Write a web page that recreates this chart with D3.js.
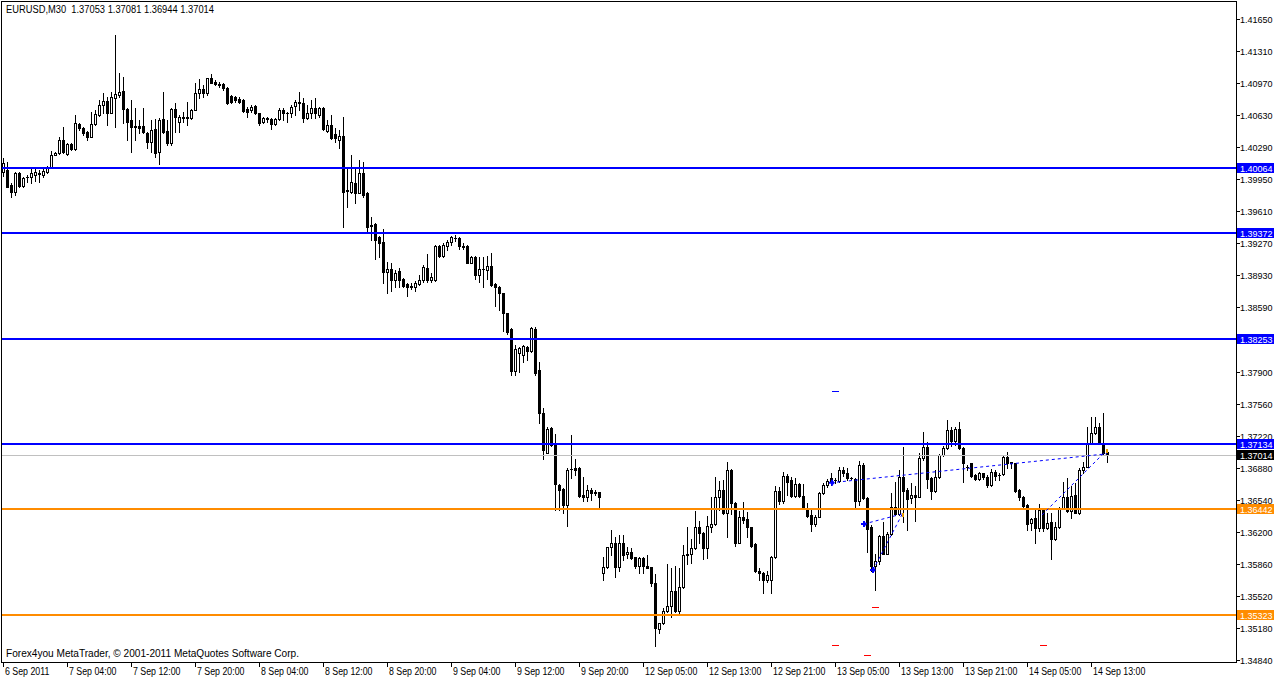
<!DOCTYPE html>
<html>
<head>
<meta charset="utf-8">
<script src="https://cdn.jsdelivr.net/npm/d3@7"></script>
<style>
  body { margin: 0; background: #ffffff; }
  svg text { font-family: "Liberation Sans", Arial, sans-serif; font-size: 10px; fill: #000; }
  svg text.price { font-size: 9px; }
</style>
</head>
<body>
<div id="vis"></div>
<script>
var w = 1274;
var h = 679;

// EURUSD M30 bars (oldest first)
var opens = [
  1.40028,1.40046,1.39887,1.39816,1.40011,1.39880,1.39975,1.39968,1.39993,1.40018,
  1.39993,1.40028,1.40075,1.40209,1.40223,1.40365,1.40216,1.40322,1.40266,1.40535,
  1.40496,1.40453,1.40400,1.40531,1.40630,1.40733,1.40779,1.40655,1.40807,1.40843,
  1.40885,1.40694,1.40577,1.40510,1.40514,1.40514,1.40443,1.40347,1.40482,1.40241,
  1.40584,1.40464,1.40336,1.40694,1.40552,1.40595,1.40595,1.40595,1.40683,1.40861,
  1.40910,1.40861,1.41020,1.40984,1.40963,1.40956,1.40914,1.40832,1.40825,1.40800,
  1.40790,1.40694,1.40683,1.40726,1.40648,1.40552,1.40595,1.40584,1.40531,1.40584,
  1.40683,1.40655,1.40648,1.40726,1.40765,1.40761,1.40595,1.40648,1.40708,1.40630,
  1.40708,1.40464,1.40524,1.40425,1.40365,1.40407,1.39830,1.39816,1.39905,1.39805,
  1.40011,1.39805,1.39459,1.39473,1.39338,1.39278,1.38967,1.38991,1.38878,1.38974,
  1.38885,1.38832,1.38814,1.38800,1.38836,1.38878,1.39009,1.38878,1.38878,1.39239,
  1.39133,1.39239,1.39285,1.39320,1.39320,1.39235,1.39239,1.39062,1.39126,1.38931,
  1.38995,1.38984,1.39027,1.38836,1.38807,1.38736,1.38524,1.38354,1.37915,1.38103,
  1.38082,1.38170,1.38128,1.38358,1.37922,1.37462,1.37044,1.37303,1.37143,1.36701,
  1.36658,1.36488,1.36867,1.36878,1.36878,1.36595,1.36577,1.36648,1.36620,1.36623,
  1.35768,1.35825,1.36044,1.36080,1.35825,1.36080,1.35966,1.35984,1.35931,1.35839,
  1.35927,1.35839,1.35825,1.35662,1.35166,1.35230,1.35365,1.35414,1.35573,1.35365,
  1.35612,1.35966,1.35966,1.36027,1.36250,1.36186,1.36027,1.36257,1.36285,1.36575,
  1.36646,1.36405,1.36858,1.36504,1.36087,1.36356,1.36335,1.36250,1.36070,1.35789,
  1.35768,1.35690,1.35690,1.35931,1.36639,1.36533,1.36795,1.36752,1.36586,1.36710,
  1.36583,1.36452,1.36381,1.36282,1.36364,1.36611,1.36696,1.36771,1.36750,1.36742,
  1.36859,1.36831,1.36775,1.36764,1.36534,1.36912,1.36565,1.36257,1.35843,1.35890,
  1.36162,1.35971,1.36180,1.36463,1.36392,1.36789,1.36647,1.36558,1.36594,1.36576,
  1.36983,1.37100,1.36778,1.36640,1.36781,1.37018,1.37089,1.37284,1.37171,1.37291,
  1.37089,1.36890,1.36930,1.36806,1.36767,1.36824,1.36781,1.36700,1.36842,1.36810,
  1.36817,1.36994,1.36941,1.36930,1.36647,1.36576,1.36488,1.36293,1.36346,1.36240,
  1.36435,1.36240,1.36310,1.36127,1.36250,1.36452,1.36569,1.36428,1.36594,1.36399,
  1.36859,1.36895,1.37142,1.37249,1.37312,1.37149,1.37053
];
var highs = [
  1.40177,1.40135,1.39905,1.40028,1.40028,1.39975,1.39993,1.40053,1.40064,1.40046,
  1.40075,1.40089,1.40248,1.40241,1.40400,1.40499,1.40329,1.40336,1.40630,1.40549,
  1.40507,1.40464,1.40666,1.40683,1.40790,1.40861,1.40825,1.40878,1.41480,1.41073,
  1.41037,1.40701,1.40790,1.40701,1.40577,1.40701,1.40453,1.40577,1.40584,1.40595,
  1.40878,1.40577,1.40701,1.40754,1.40630,1.40666,1.40772,1.40690,1.40967,1.41009,
  1.40949,1.41020,1.41066,1.41002,1.40984,1.40967,1.40924,1.40843,1.40832,1.40825,
  1.40797,1.40719,1.40736,1.40736,1.40655,1.40613,1.40613,1.40595,1.40595,1.40701,
  1.40701,1.40666,1.40736,1.40790,1.40878,1.40807,1.40736,1.40790,1.40807,1.40712,
  1.40719,1.40577,1.40630,1.40489,1.40471,1.40606,1.40064,1.40206,1.40064,1.40152,
  1.40135,1.39816,1.39544,1.39480,1.39345,1.39416,1.39073,1.39062,1.38984,1.39009,
  1.38896,1.38843,1.38850,1.38871,1.38931,1.39037,1.39154,1.38949,1.39250,1.39250,
  1.39267,1.39303,1.39345,1.39356,1.39338,1.39274,1.39250,1.39133,1.39133,1.39126,
  1.39126,1.39133,1.39161,1.38843,1.38814,1.38743,1.38531,1.38365,1.38188,1.38170,
  1.38188,1.38177,1.38382,1.38375,1.38011,1.37515,1.37320,1.37320,1.37243,1.36711,
  1.36665,1.36878,1.37232,1.36974,1.36888,1.36789,1.36701,1.36665,1.36648,1.36630,
  1.35931,1.36044,1.36221,1.36150,1.36168,1.36168,1.36037,1.36027,1.35938,1.35931,
  1.35931,1.35956,1.35832,1.35751,1.35237,1.35389,1.35860,1.35814,1.35839,1.35814,
  1.36062,1.36250,1.36122,1.36423,1.36320,1.36204,1.36370,1.36575,1.36781,1.36745,
  1.36752,1.36940,1.36866,1.36522,1.36423,1.36522,1.36416,1.36257,1.36080,1.35821,
  1.35779,1.35786,1.35945,1.36689,1.36681,1.36834,1.36816,1.36788,1.36770,1.36724,
  1.36711,1.36505,1.36435,1.36381,1.36622,1.36725,1.36767,1.36824,1.36771,1.36888,
  1.36888,1.36877,1.36789,1.36778,1.36955,1.36930,1.36576,1.36275,1.35971,1.36173,
  1.36310,1.36197,1.36611,1.36735,1.36859,1.37100,1.36665,1.36718,1.36689,1.37036,
  1.37266,1.37160,1.36789,1.36859,1.37029,1.37114,1.37390,1.37319,1.37319,1.37373,
  1.37100,1.36912,1.36937,1.36817,1.36842,1.36831,1.36806,1.36866,1.36859,1.36824,
  1.37018,1.37054,1.36948,1.36937,1.36654,1.36583,1.36498,1.36346,1.36452,1.36498,
  1.36452,1.36406,1.36406,1.36310,1.36470,1.36735,1.36771,1.36689,1.36718,1.36877,
  1.36948,1.37319,1.37419,1.37419,1.37362,1.37468,1.37081
];
var lows = [
  1.39986,1.39869,1.39756,1.39781,1.39869,1.39869,1.39922,1.39912,1.39933,1.39922,
  1.39975,1.40011,1.40064,1.40202,1.40216,1.40230,1.40206,1.40259,1.40259,1.40471,
  1.40418,1.40365,1.40393,1.40524,1.40620,1.40648,1.40524,1.40648,1.40507,1.40825,
  1.40542,1.40365,1.40241,1.40365,1.40436,1.40436,1.40276,1.40241,1.40188,1.40107,
  1.40436,1.40312,1.40312,1.40453,1.40453,1.40560,1.40524,1.40584,1.40683,1.40807,
  1.40825,1.40843,1.40967,1.40945,1.40931,1.40896,1.40747,1.40761,1.40772,1.40754,
  1.40666,1.40613,1.40666,1.40641,1.40524,1.40542,1.40560,1.40482,1.40524,1.40577,
  1.40577,1.40560,1.40606,1.40630,1.40683,1.40560,1.40588,1.40595,1.40595,1.40606,
  1.40471,1.40453,1.40372,1.40347,1.40276,1.39437,1.39657,1.39805,1.39699,1.39798,
  1.39763,1.39391,1.39303,1.39098,1.39126,1.38850,1.38743,1.38765,1.38807,1.38807,
  1.38800,1.38712,1.38779,1.38765,1.38825,1.38860,1.38860,1.38860,1.38871,1.39126,
  1.39126,1.39197,1.39250,1.39296,1.39204,1.39204,1.39055,1.39055,1.38885,1.38860,
  1.38807,1.38885,1.38814,1.38602,1.38560,1.38340,1.38305,1.37869,1.37869,1.37905,
  1.38011,1.38022,1.38117,1.37869,1.37363,1.36974,1.37037,1.37115,1.36435,1.36435,
  1.36400,1.36265,1.36772,1.36807,1.36577,1.36524,1.36534,1.36541,1.36595,1.36453,
  1.35690,1.35814,1.35956,1.35726,1.35789,1.35903,1.35920,1.35910,1.35814,1.35761,
  1.35768,1.35814,1.35627,1.34993,1.35124,1.35223,1.35354,1.35301,1.35354,1.35343,
  1.35602,1.35860,1.35867,1.36016,1.36080,1.35910,1.35920,1.36204,1.36274,1.36434,
  1.36391,1.36150,1.36391,1.36051,1.36080,1.36292,1.36150,1.36044,1.35779,1.35690,
  1.35556,1.35673,1.35556,1.35920,1.36497,1.36512,1.36593,1.36575,1.36575,1.36568,
  1.36442,1.36364,1.36208,1.36264,1.36357,1.36604,1.36675,1.36700,1.36718,1.36735,
  1.36796,1.36753,1.36760,1.36452,1.36488,1.36548,1.35985,1.35783,1.35580,1.35864,
  1.35961,1.35961,1.36173,1.36381,1.36381,1.36310,1.36222,1.36505,1.36321,1.36569,
  1.36965,1.36665,1.36551,1.36629,1.36771,1.37008,1.37079,1.37114,1.37125,1.37079,
  1.36735,1.36859,1.36781,1.36753,1.36753,1.36760,1.36682,1.36689,1.36753,1.36753,
  1.36806,1.36877,1.36877,1.36629,1.36541,1.36452,1.36222,1.36222,1.36085,1.36215,
  1.36208,1.36229,1.35915,1.36120,1.36240,1.36442,1.36417,1.36346,1.36399,1.36392,
  1.36831,1.36888,1.37135,1.37242,1.37142,1.37029,1.36944
];
var closes = [
  1.40117,1.39869,1.39816,1.40011,1.39876,1.39965,1.39968,1.40018,1.40021,1.40000,
  1.40036,1.40075,1.40202,1.40227,1.40365,1.40241,1.40319,1.40266,1.40542,1.40489,
  1.40436,1.40400,1.40535,1.40641,1.40736,1.40779,1.40655,1.40818,1.40853,1.40878,
  1.40694,1.40560,1.40499,1.40507,1.40496,1.40446,1.40347,1.40471,1.40230,1.40577,
  1.40453,1.40329,1.40690,1.40613,1.40606,1.40606,1.40606,1.40683,1.40868,1.40903,
  1.40861,1.41020,1.40967,1.40956,1.40945,1.40914,1.40761,1.40772,1.40790,1.40772,
  1.40673,1.40666,1.40719,1.40648,1.40549,1.40595,1.40584,1.40531,1.40588,1.40683,
  1.40648,1.40652,1.40719,1.40772,1.40754,1.40595,1.40655,1.40701,1.40648,1.40701,
  1.40478,1.40524,1.40383,1.40383,1.40407,1.39816,1.39827,1.39915,1.39805,1.40011,
  1.39781,1.39444,1.39455,1.39303,1.39274,1.38967,1.38991,1.38878,1.38956,1.38878,
  1.38814,1.38800,1.38800,1.38850,1.38878,1.39020,1.38878,1.38913,1.39239,1.39133,
  1.39250,1.39285,1.39331,1.39324,1.39239,1.39232,1.39062,1.39126,1.38931,1.38991,
  1.38991,1.39027,1.38825,1.38807,1.38736,1.38524,1.38329,1.37915,1.38142,1.38152,
  1.38177,1.38128,1.38372,1.37887,1.37462,1.37073,1.37296,1.37126,1.36711,1.36648,
  1.36488,1.36860,1.36871,1.36860,1.36584,1.36577,1.36648,1.36612,1.36619,1.36570,
  1.35825,1.36037,1.36080,1.35825,1.36080,1.35956,1.35984,1.35920,1.35839,1.35927,
  1.35839,1.35821,1.35662,1.35177,1.35230,1.35365,1.35414,1.35573,1.35365,1.35612,
  1.35956,1.35956,1.36027,1.36250,1.36186,1.36027,1.36264,1.36285,1.36575,1.36646,
  1.36405,1.36858,1.36504,1.36087,1.36356,1.36327,1.36250,1.36051,1.35789,1.35768,
  1.35690,1.35743,1.35931,1.36639,1.36533,1.36795,1.36735,1.36586,1.36710,1.36582,
  1.36452,1.36371,1.36282,1.36364,1.36611,1.36696,1.36746,1.36735,1.36753,1.36859,
  1.36831,1.36771,1.36771,1.36534,1.36912,1.36565,1.36229,1.35843,1.35890,1.36162,
  1.35971,1.36180,1.36463,1.36392,1.36789,1.36640,1.36548,1.36594,1.36576,1.36983,
  1.37100,1.36764,1.36640,1.36781,1.37018,1.37089,1.37284,1.37171,1.37291,1.37089,
  1.36930,1.36888,1.36796,1.36760,1.36824,1.36781,1.36700,1.36842,1.36796,1.36806,
  1.36994,1.36937,1.36937,1.36640,1.36569,1.36477,1.36286,1.36335,1.36240,1.36435,
  1.36240,1.36300,1.36127,1.36250,1.36452,1.36569,1.36428,1.36583,1.36406,1.36859,
  1.36895,1.37142,1.37249,1.37312,1.37149,1.37036,1.37014
];

// horizontal levels drawn on the chart
var levelPrices = [1.40064, 1.39372, 1.38253, 1.37134, 1.36442, 1.35323];
var levelColors = ['#0000ff', '#0000ff', '#0000ff', '#0000ff', '#ff8c00', '#ff8c00'];
var bidPrice = 1.37014;

// price scale labels
var priceTicks = [1.41650, 1.41310, 1.40970, 1.40630, 1.40290, 1.39950, 1.39610, 1.39270,
  1.38930, 1.38590, 1.38250, 1.37900, 1.37560, 1.37220, 1.36880, 1.36540, 1.36200,
  1.35860, 1.35520, 1.35180, 1.34840];

// time labels, one every 16 bars
var timeLabels = ['6 Sep 2011', '7 Sep 04:00', '7 Sep 12:00', '7 Sep 20:00', '8 Sep 04:00',
  '8 Sep 12:00', '8 Sep 20:00', '9 Sep 04:00', '9 Sep 12:00', '9 Sep 20:00', '12 Sep 05:00',
  '12 Sep 13:00', '12 Sep 21:00', '13 Sep 05:00', '13 Sep 13:00', '13 Sep 21:00',
  '14 Sep 05:00', '14 Sep 13:00'];

// indicator objects: dashed trend lines [bar, price]
var trendFrom = [[207, 1.36723], [215.25, 1.36285], [217.5, 1.35796], [259.75, 1.36381]];
var trendTo = [[276, 1.37031], [224.7, 1.36391], [224.7, 1.36381], [275.5, 1.37050]];
var arrowPoints = [[207.25, 1.36723], [215.25, 1.36285], [217.5, 1.35796]];
var orangeMarks = [[224.7, 1.36381], [275.7, 1.37060]];
var blueDashes = [[208, 1.37698]];
var redDashes = [[208, 1.34999], [216, 1.34893], [218, 1.35403], [260, 1.34999]];

var bars = opens.map(function(o, i) {
  return { i: i, o: o, h: highs[i], l: lows[i], c: closes[i] };
});

var svg = d3.select('#vis')
  .append('svg')
    .attr('width', w)
    .attr('height', h)
    .style('display', 'block')
    .style('background', '#ffffff');

var x = d3.scaleLinear()
  .domain([0, 276])
  .range([3, 1107]);

var y = d3.scaleLinear()
  .domain([1.34840, 1.41650])
  .range([660, 19]);

var right = 1236;
var bottom = 662;

svg.append('clipPath')
    .attr('id', 'plot')
  .append('rect')
    .attr('x', 2)
    .attr('y', 2)
    .attr('width', right - 2)
    .attr('height', bottom - 2);

var plot = svg.append('g')
  .attr('clip-path', 'url(#plot)')
  .attr('shape-rendering', 'crispEdges');

// candles
var candle = plot.selectAll('g.candle')
  .data(bars)
  .enter()
  .append('g')
    .attr('class', 'candle');

candle.append('rect')
  .attr('x', function(d) { return Math.round(x(d.i)); })
  .attr('y', function(d) { return Math.round(y(d.h)); })
  .attr('width', 1)
  .attr('height', function(d) { return Math.round(y(d.l)) - Math.round(y(d.h)) + 1; })
  .style('fill', '#000');

candle.append('rect')
  .attr('x', function(d) { return Math.round(x(d.i)) - 1; })
  .attr('y', function(d) { return Math.round(y(Math.max(d.o, d.c))); })
  .attr('width', 3)
  .attr('height', function(d) {
    return Math.max(1, Math.round(y(Math.min(d.o, d.c))) - Math.round(y(Math.max(d.o, d.c))) + 1);
  })
  .style('fill', '#000');

candle.filter(function(d) {
    return d.c > d.o && Math.round(y(d.o)) - Math.round(y(d.c)) >= 2;
  })
  .append('rect')
    .attr('x', function(d) { return Math.round(x(d.i)); })
    .attr('y', function(d) { return Math.round(y(d.c)) + 1; })
    .attr('width', 1)
    .attr('height', function(d) { return Math.round(y(d.o)) - Math.round(y(d.c)) - 1; })
    .style('fill', '#fff');

// bid line
plot.append('rect')
  .attr('x', 2)
  .attr('y', Math.round(y(bidPrice)))
  .attr('width', right - 2)
  .attr('height', 1)
  .style('fill', '#c0c0c0');

// support / resistance levels
plot.selectAll('rect.level')
  .data(levelPrices)
  .enter()
  .append('rect')
    .attr('class', 'level')
    .attr('x', 2)
    .attr('y', function(d) { return Math.round(y(d)) - 1; })
    .attr('width', right - 2)
    .attr('height', 2)
    .style('fill', function(d, i) { return levelColors[i]; });

// dashed trend lines
var lines = plot.append('g').attr('shape-rendering', 'auto');
lines.selectAll('line')
  .data(trendFrom)
  .enter()
  .append('line')
    .attr('x1', function(d) { return x(d[0]); })
    .attr('y1', function(d) { return y(d[1]); })
    .attr('x2', function(d, i) { return x(trendTo[i][0]); })
    .attr('y2', function(d, i) { return y(trendTo[i][1]); })
    .style('stroke', '#0000ff')
    .style('stroke-width', 1)
    .style('stroke-dasharray', '3,3');

lines.selectAll('path.arrow')
  .data(arrowPoints)
  .enter()
  .append('path')
    .attr('class', 'arrow')
    .attr('transform', function(d) { return 'translate(' + x(d[0]) + ',' + y(d[1]) + ')'; })
    .attr('d', 'M-3,-1L0,-1L0,-3L3,0L0,3L0,1L-3,1Z M-1,-3L1,-3L1,3L-1,3Z')
    .style('fill', '#0000ff');

plot.selectAll('rect.omark')
  .data(orangeMarks)
  .enter()
  .append('rect')
    .attr('class', 'omark')
    .attr('x', function(d) { return Math.round(x(d[0])); })
    .attr('y', function(d) { return Math.round(y(d[1])) - 2; })
    .attr('width', 2)
    .attr('height', 4)
    .style('fill', '#e8a000');

plot.selectAll('rect.bdash')
  .data(blueDashes)
  .enter()
  .append('rect')
    .attr('class', 'bdash')
    .attr('x', function(d) { return Math.round(x(d[0])) - 3; })
    .attr('y', function(d) { return Math.round(y(d[1])); })
    .attr('width', 7)
    .attr('height', 1)
    .style('fill', '#0000ff');

plot.selectAll('rect.rdash')
  .data(redDashes)
  .enter()
  .append('rect')
    .attr('class', 'rdash')
    .attr('x', function(d) { return Math.round(x(d[0])) - 3; })
    .attr('y', function(d) { return Math.round(y(d[1])); })
    .attr('width', 7)
    .attr('height', 1)
    .style('fill', '#ff0000');

// frame
svg.append('rect')
  .attr('x', 1.5)
  .attr('y', 1.5)
  .attr('width', right - 1)
  .attr('height', bottom - 1)
  .style('fill', 'none')
  .style('stroke', '#000')
  .style('stroke-width', 1)
  .attr('shape-rendering', 'crispEdges');

function squeeze(sel, k) {
  sel.each(function() {
    var len = this.getComputedTextLength();
    d3.select(this)
      .attr('textLength', len * k)
      .attr('lengthAdjust', 'spacingAndGlyphs');
  });
}

function fitTo(sel, len) {
  sel.attr('textLength', len).attr('lengthAdjust', 'spacingAndGlyphs');
}

// price axis
var pAxis = svg.append('g');
pAxis.selectAll('rect')
  .data(priceTicks)
  .enter()
  .append('rect')
    .attr('x', right + 1)
    .attr('y', function(d) { return Math.round(y(d)); })
    .attr('width', 3)
    .attr('height', 1)
    .style('fill', '#000');

pAxis.selectAll('text')
  .data(priceTicks)
  .enter()
  .append('text')
    .attr('class', 'price')
    .attr('x', 1240)
    .attr('y', function(d) { return Math.round(y(d)) + 4; })
    .text(function(d) { return d.toFixed(5); });

// value boxes on the price axis
var boxPrices = levelPrices.concat([bidPrice]);
var boxColors = levelColors.concat(['#000000']);
var boxes = svg.append('g');
boxes.selectAll('rect')
  .data(boxPrices)
  .enter()
  .append('rect')
    .attr('x', right + 1)
    .attr('y', function(d) { return Math.round(y(d)) - 5; })
    .attr('width', w - right - 1)
    .attr('height', 10)
    .style('fill', function(d, i) { return boxColors[i]; });

boxes.selectAll('text')
  .data(boxPrices)
  .enter()
  .append('text')
    .attr('class', 'price')
    .attr('x', 1240)
    .attr('y', function(d) { return Math.round(y(d)) + 4; })
    .style('fill', '#fff')
    .text(function(d) { return d.toFixed(5); });

// time axis
var tAxis = svg.append('g');
tAxis.selectAll('rect')
  .data(timeLabels)
  .enter()
  .append('rect')
    .attr('x', function(d, i) { return Math.round(x(i * 16)); })
    .attr('y', bottom)
    .attr('width', 1)
    .attr('height', 5)
    .style('fill', '#000');

var tLabels = tAxis.selectAll('text')
  .data(timeLabels)
  .enter()
  .append('text')
    .attr('x', function(d, i) { return Math.round(x(i * 16)) + 2; })
    .attr('y', 675)
    .text(function(d) { return d; });
squeeze(tLabels, 0.88);

// header and footer
var head = svg.append('text')
  .attr('x', 6)
  .attr('y', 13)
  .style('white-space', 'pre')
  .text('EURUSD,M30  ' + [opens[276], highs[276], lows[276], closes[276]].map(function(v) { return v.toFixed(5); }).join(' '));
fitTo(head, 208);

var foot = svg.append('text')
  .attr('x', 6)
  .attr('y', 657)
  .text('Forex4you MetaTrader, \u00a9 2001-2011 MetaQuotes Software Corp.');
fitTo(foot, 293);
</script>
</body>
</html>
